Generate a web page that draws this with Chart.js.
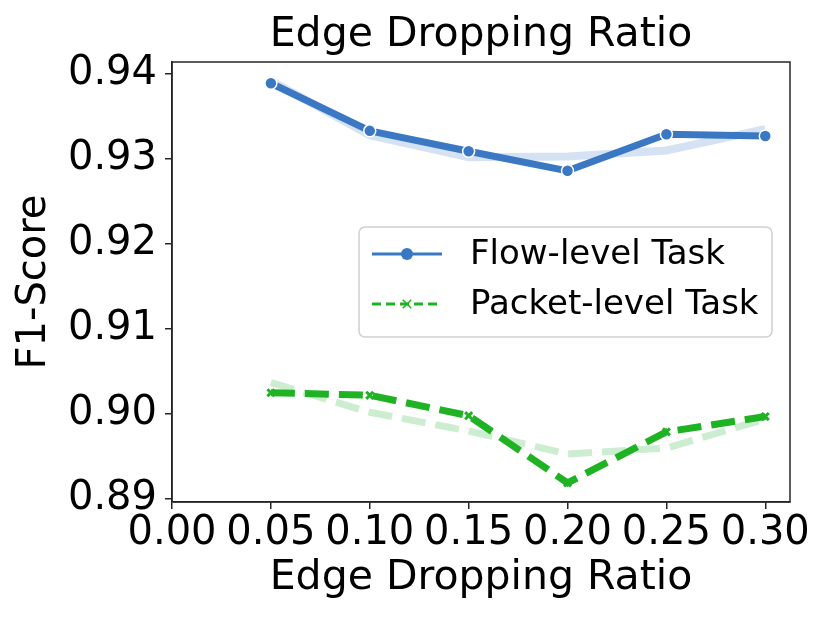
<!DOCTYPE html>
<html>
<head>
<meta charset="utf-8">
<script src="https://cdn.jsdelivr.net/npm/chart.js@4.4.1/dist/chart.umd.min.js"></script>
<style>
  html, body { margin: 0; padding: 0; background: #fff; }
  #wrap { width: 830px; height: 623px; }
</style>
</head>
<body>
<div id="wrap"><canvas id="chart" width="830" height="623"></canvas></div>
<script>
// values
const dropRatios = [0.05, 0.10, 0.15, 0.20, 0.25, 0.30];
const flowScores = [0.9389, 0.9333, 0.9309, 0.9286, 0.9329, 0.9327];
const flowTrend = [0.9392, 0.9328, 0.9302, 0.9303, 0.9310, 0.9335];
const packetScores = [0.9025, 0.9022, 0.8998, 0.8919, 0.8979, 0.8997];
const packetTrend = [0.9037, 0.9002, 0.8980, 0.8953, 0.8960, 0.8994];
const xTicks = [0, 0.05, 0.10, 0.15, 0.20, 0.25, 0.30];
const yTicks = [0.89, 0.90, 0.91, 0.92, 0.93, 0.94];
const chartTitle = 'Edge Dropping Ratio';

const FONT = 'DejaVu Sans';
const BLUE = '#3a78c3';
const BLUE_LIGHT = '#d4e2f3';
const GREEN = '#1fb324';
const GREEN_LIGHT = '#cdedd0';
const AXIS = '#262626';

const toPoints = ys => dropRatios.map((x, i) => ({ x: x, y: ys[i] }));

// title centred on the plot, spines on all four sides, legend inside the plot
const frameAndLegend = {
  id: 'frameAndLegend',
  afterDraw(chart) {
    const { ctx, chartArea: a } = chart;
    ctx.save();
    ctx.fillStyle = '#000';
    ctx.font = '41px "' + FONT + '"';
    ctx.textAlign = 'center';
    ctx.textBaseline = 'middle';
    ctx.fillText(chartTitle, (a.left + a.right) / 2, 35);

    ctx.strokeStyle = AXIS;
    ctx.lineWidth = 1.5;
    ctx.strokeRect(a.left, a.top, a.right - a.left, a.bottom - a.top);

    const bw = 413, bh = 110;
    const bx = a.right - 18 - bw, by = a.top + 165;
    ctx.beginPath();
    ctx.roundRect(bx, by, bw, bh, 6);
    ctx.fillStyle = 'rgba(255,255,255,0.85)';
    ctx.fill();
    ctx.strokeStyle = '#d0d0d0';
    ctx.lineWidth = 1.5;
    ctx.stroke();

    const entries = chart.data.datasets.filter(d => d.label);
    entries.forEach((d, i) => {
      const y = by + 27 + i * 50;
      const x0 = bx + 13, x1 = bx + 83;
      ctx.save();
      ctx.strokeStyle = d.borderColor;
      ctx.lineWidth = 3;
      ctx.setLineDash(d.borderDash ? [9, 5] : []);
      ctx.beginPath();
      ctx.moveTo(x0, y);
      ctx.lineTo(x1, y);
      ctx.stroke();
      ctx.restore();
      ctx.save();
      ctx.fillStyle = d.pointBackgroundColor;
      ctx.strokeStyle = d.pointBorderColor;
      Chart.helpers.drawPoint(ctx, {
        pointStyle: d.pointStyle,
        radius: d.pointStyle === 'crossRot' ? 6 : 6,
        borderWidth: d.pointStyle === 'crossRot' ? 5 : 0,
        rotation: 0
      }, (x0 + x1) / 2, y);
      ctx.restore();
      ctx.fillStyle = '#000';
      ctx.font = '34px "' + FONT + '"';
      ctx.textBaseline = 'middle';
      ctx.textAlign = 'left';
      ctx.fillText(d.label, bx + 111, y + 1);
    });
    ctx.restore();
  }
};

new Chart(document.getElementById('chart'), {
  type: 'line',
  data: {
    datasets: [
      {
        label: 'Flow-level Task',
        data: toPoints(flowScores),
        borderColor: BLUE,
        borderWidth: 7,
        borderJoinStyle: 'round',
        borderCapStyle: 'round',
        pointStyle: 'circle',
        pointRadius: 6,
        pointBackgroundColor: BLUE,
        pointBorderColor: '#ffffff',
        pointBorderWidth: 1.5,
        order: 0
      },
      {
        label: 'Packet-level Task',
        data: toPoints(packetScores),
        borderColor: GREEN,
        borderWidth: 7,
        borderDash: [24, 10],
        borderCapStyle: 'butt',
        pointStyle: 'crossRot',
        pointRadius: 5,
        pointBackgroundColor: GREEN,
        pointBorderColor: GREEN,
        pointBorderWidth: 3,
        order: 0
      },
      {
        data: toPoints(flowTrend),
        borderColor: BLUE_LIGHT,
        borderWidth: 8,
        pointRadius: 0,
        order: 1
      },
      {
        data: toPoints(packetTrend),
        borderColor: GREEN_LIGHT,
        borderWidth: 7,
        borderDash: [24, 10],
        borderCapStyle: 'butt',
        pointRadius: 0,
        order: 1
      }
    ]
  },
  options: {
    responsive: false,
    animation: false,
    devicePixelRatio: 1,
    layout: { padding: { left: 0, right: 40, top: 62, bottom: 0 } },
    plugins: {
      legend: { display: false },
      tooltip: { enabled: false },
      title: { display: false }
    },
    scales: {
      x: {
        type: 'linear',
        min: 0,
        max: 0.3125,
        afterBuildTicks: s => { s.ticks = xTicks.map(v => ({ value: v })); },
        afterFit: s => { s.height = 121; },
        grid: { drawOnChartArea: false, drawTicks: true, tickLength: 7, color: AXIS, lineWidth: 1.5 },
        border: { display: true, color: AXIS, width: 1.5 },
        ticks: {
          color: '#000',
          font: { family: FONT, size: 40 },
          padding: 1,
          maxRotation: 0,
          autoSkip: false,
          callback: v => v.toFixed(2)
        },
        title: {
          display: true,
          text: 'Edge Dropping Ratio',
          color: '#000',
          font: { family: FONT, size: 41 },
          padding: { top: 0, bottom: 20 }
        }
      },
      y: {
        min: 0.88965,
        max: 0.9414,
        afterBuildTicks: s => { s.ticks = yTicks.map(v => ({ value: v })); },
        afterFit: s => { s.width = 172; },
        grid: { drawOnChartArea: false, drawTicks: true, tickLength: 7, color: AXIS, lineWidth: 1.5 },
        border: { display: true, color: AXIS, width: 1.5 },
        ticks: {
          color: '#000',
          font: { family: FONT, size: 40 },
          padding: 8,
          autoSkip: false,
          callback: v => v.toFixed(2)
        },
        title: {
          display: true,
          text: 'F1-Score',
          color: '#000',
          font: { family: FONT, size: 40 },
          padding: { top: 11, bottom: 0 }
        }
      }
    }
  },
  plugins: [frameAndLegend]
});
</script>
</body>
</html>
